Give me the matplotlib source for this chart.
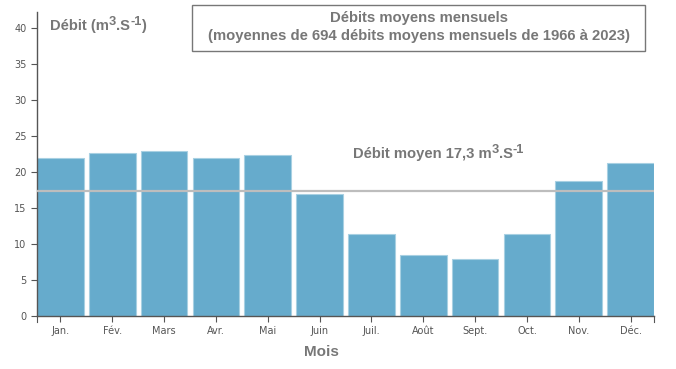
import matplotlib
matplotlib.use("Agg")
import matplotlib.pyplot as plt
from matplotlib.patches import Rectangle
import numpy as np

months = ["Jan.", "Fév.", "Mars", "Avr.", "Mai", "Juin", "Juil.", "Août", "Sept.", "Oct.", "Nov.", "Déc."]
flows = [21.9, 22.6, 22.9, 21.9, 22.3, 16.9, 11.4, 8.5, 7.9, 11.4, 18.8, 21.2]
mean_flow = 17.3
yticks = [0, 5, 10, 15, 20, 25, 30, 35, 40]

W, H = 676, 369
fig = plt.figure(figsize=(W/100, H/100), dpi=100)
ax = fig.add_axes([37/W, 53/H, (654-37)/W, (316-12)/H])

x = np.arange(len(months))
ax.bar(x, flows, width=0.9, color="#66abcc", edgecolor="#a8d0e2", linewidth=0.8, zorder=2)
ax.axhline(mean_flow, color="#bdbdbd", linewidth=1.6, zorder=3)

ax.set_xlim(-0.45, len(months) - 0.55)
ax.set_ylim(0, 42.2)
ax.set_yticks(yticks)
ax.set_xticks(x)
ax.set_xticklabels(months)
ax.tick_params(axis="both", labelsize=7, colors="#555555", labelcolor="#555555", length=4, width=0.8)
ax.tick_params(axis="x", pad=3)
for s in ["top", "right"]:
    ax.spines[s].set_visible(False)
for s in ["left", "bottom"]:
    ax.spines[s].set_color("#555555")
    ax.spines[s].set_linewidth(1.0)
ax.set_facecolor("white")

ax.plot([-0.45, -0.45], [0, -0.9], color="#555555", lw=0.8, clip_on=False)
ax.plot([11.45, 11.45], [0, -0.9], color="#555555", lw=0.8, clip_on=False)

font = ["Liberation Sans", "DejaVu Sans"]
gray = "#777777"
renderer = fig.canvas.get_renderer()


def rich(xpx, ybase_px, parts):
    """parts: list of (text, fontsize, raise_px); xpx, ybase_px in pixels from top-left."""
    cur = xpx
    for txt, fs, rise in parts:
        t = fig.text(cur / W, 1 - (ybase_px - rise) / H, txt, family=font, fontsize=fs,
                     fontweight="bold", color=gray, ha="left", va="baseline")
        bb = t.get_window_extent(renderer)
        cur += bb.width


rich(50, 30, [("Débit (m", 10.6, 0), ("3", 9.3, 5), (".S", 10.6, 0), ("-1", 9.3, 5), (")", 10.6, 0)])
rich(353, 158, [("Débit moyen 17,3 m", 10.6, 0), ("3", 9.3, 5), (".S", 10.6, 0), ("-1", 9.3, 5)])

fig.patches.append(Rectangle((192/W, 1 - 51/H), (645-192)/W, 46/H, transform=fig.transFigure,
                             fc="white", ec="#777777", lw=1.0, zorder=5))
fig.text(418.5/W, 1 - 18/H, "Débits moyens mensuels", family=font, fontsize=10.7,
         fontweight="bold", color=gray, ha="center", va="center", zorder=6)
fig.text(418.5/W, 1 - 36/H, "(moyennes de 694 débits moyens mensuels de 1966 à 2023)", family=font,
         fontsize=10.7, fontweight="bold", color=gray, ha="center", va="center", zorder=6)
fig.text(321/W, 1 - 352/H, "Mois", family=font, fontsize=11, fontweight="bold", color=gray,
         ha="center", va="center")

fig.savefig("out.png", dpi=100, facecolor="white")
